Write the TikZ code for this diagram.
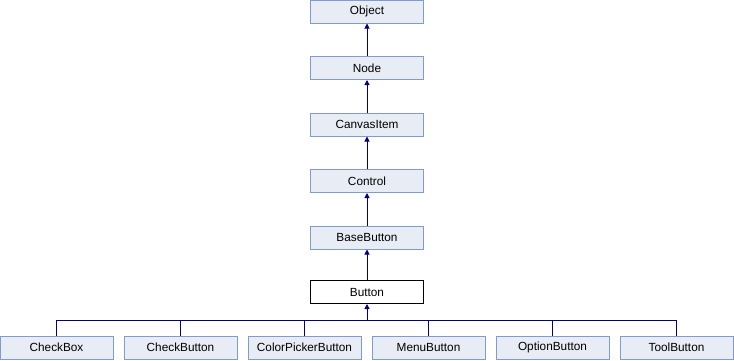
\documentclass[tikz,border=0pt]{standalone}
\usepackage{fontspec}
\setmainfont{Liberation Sans}
\usetikzlibrary{arrows.meta}
\definecolor{boxfill}{HTML}{E8ECF5}
\definecolor{boxline}{HTML}{7F9BCF}
\definecolor{linkcol}{HTML}{000080}
\begin{document}
\begin{tikzpicture}[x=1pt,y=-1pt,
  cls/.style={draw=boxline,fill=boxfill,line width=1pt,minimum width=113pt,minimum height=23pt,
    inner sep=0pt,font=\fontsize{11.8}{14}\selectfont},
  cur/.style={cls,draw=black,fill=white},
  link/.style={draw=linkcol,line width=1pt},
  inherit/.style={link,-{Triangle[length=5pt,width=5pt]}}]
\useasboundingbox (0,0) rectangle (734,360);
% inheritance chain
\node[cls] (object) at (367,11.5) {Object};
\node[cls] (node) at (367,68) {Node};
\node[cls] (canvas) at (367,124.5) {CanvasItem};
\node[cls] (control) at (367,181) {Control};
\node[cls] (basebtn) at (367,237.5) {BaseButton};
\node[cur] (button) at (367,292) {Button};
% derived classes
\node[cls] (checkbox) at (56.5,347.5) {CheckBox};
\node[cls] (checkbtn) at (180.5,347.5) {CheckButton};
\node[cls] (colorbtn) at (304.5,347.5) {ColorPickerButton};
\node[cls] (menubtn) at (428.5,347.5) {MenuButton};
\node[cls] (optionbtn) at (552.5,347.5) {OptionButton};
\node[cls] (toolbtn) at (676.5,347.5) {ToolButton};
\draw[inherit] (node) -- (object);
\draw[inherit] (canvas) -- (node);
\draw[inherit] (control) -- (canvas);
\draw[inherit] (basebtn) -- (control);
\draw[inherit] (button) -- (basebtn);
% bus to the derived classes
\coordinate (bus) at (367,320.5);
\draw[inherit] (bus) -- (button);
\draw[link] (checkbox.north) |- (bus) -| (toolbtn.north);
\foreach \n in {checkbtn,colorbtn,menubtn,optionbtn}
  \draw[link] (\n.north) -- (\n.north |- bus);
\end{tikzpicture}
\end{document}
